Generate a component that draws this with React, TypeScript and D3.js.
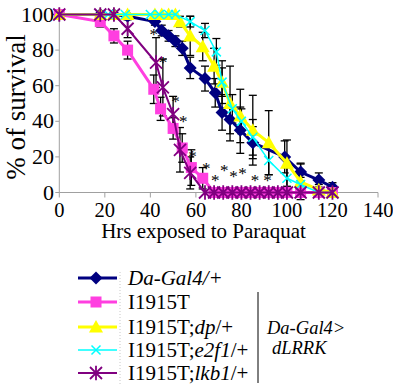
import React from "react";
import * as d3 from "d3";

const xTicks = [0, 20, 40, 60, 80, 100, 120, 140];
const yTicks = [0, 20, 40, 60, 80, 100];

const blueT = [0, 18, 24, 30, 42, 45, 48, 51, 54, 57.5, 64, 68.5, 71.5, 75, 79.5, 85, 99, 106, 114, 120];
const blueV = [100, 100, 100, 99, 96, 91, 88, 85, 81, 70, 64, 56, 45, 41, 35, 28, 20, 11.5, 7, 3];
const blueE = [0, 0, 0, 0, 2, 3, 3, 3, 4, 6, 7, 8, 10, 8, 13, 9, 9, 5, 4, 2.5];

const pinkT = [0, 18, 24, 30, 41.5, 44.5, 50, 54, 58, 63, 68, 72, 76, 80, 84, 88, 92, 96, 100, 106, 114, 120];
const pinkV = [100, 96, 88, 80, 58, 47, 36, 25, 14, 8, 0, 0, 0, 0, 0, 0, 0, 0, 0, 0, 0, 0];
const pinkE = [0, 3, 4, 5, 8, 6.5, 6, 8, 10, 6, 0, 0, 0, 0, 0, 0, 0, 0, 0, 0, 0, 0];

const yellowT = [0, 18, 24, 30, 42, 45, 48, 51, 53, 57.5, 63, 68, 71.5, 75, 79.5, 85, 92, 100, 106, 114, 120];
const yellowV = [100, 100, 100, 100, 100, 100, 100, 100, 96, 88, 82, 71, 62, 50, 43, 35, 28, 16.5, 6, 1.5, 0];
const yellowE = [0, 0, 0, 0, 0, 0, 0, 0, 3, 11, 8, 10, 12, 21, 15, 19.6, 18, 13, 10, 3, 0];

const cyanT = [0, 18, 21.5, 29, 40, 44, 48, 51, 57.5, 64, 69, 71.5, 76, 80, 85, 92, 100, 106, 114, 120];
const cyanV = [100, 100, 100, 100, 100, 100, 100, 100, 96, 91, 79, 62, 47, 40, 31, 18, 8, 4.5, 0, 0];
const cyanE = [0, 0, 0, 0, 0, 0, 0, 0, 3, 4, 7.5, 8, 8, 7, 10, 8, 6, 4, 0, 0];

const purpleT = [0, 18, 24, 30, 42.5, 45.5, 50, 53, 57.5, 64, 68, 72, 76, 80, 84, 88, 92, 96, 100, 106, 114, 120];
const purpleV = [100, 100, 100, 92, 73, 59, 44, 24, 11, 0, 0, 0, 0, 0, 0, 0, 0, 0, 0, 0, 0, 0];
const purpleE = [0, 0, 0, 5, 14, 16, 10, 12.5, 9, 0, 0, 0, 0, 0, 0, 0, 0, 0, 0, 0, 0, 0];

const starT = [41.5, 45.5, 51, 54.5, 58.5, 64.5, 68.5, 72.5, 76.5, 80.5, 86, 91.5];
const starV = [91, 75, 53, 42, 22, 15.5, 8.7, 14.3, 11, 12.5, 8.7, 8.7];

type Shape = "diamond" | "square" | "triangle" | "x" | "asterisk";

const seriesList = [
  { label: ["Da-Gal4/+", ""], italicAll: true, t: blueT, v: blueV, e: blueE, color: "#000080", width: 3, shape: "diamond" as Shape },
  { label: ["I1915T", ""], italicAll: false, t: pinkT, v: pinkV, e: pinkE, color: "#ff3fe0", width: 3, shape: "square" as Shape },
  { label: ["I1915T;", "dp"], italicAll: false, t: yellowT, v: yellowV, e: yellowE, color: "#ffff00", width: 3, shape: "triangle" as Shape },
  { label: ["I1915T;", "e2f1"], italicAll: false, t: cyanT, v: cyanV, e: cyanE, color: "#00ffff", width: 1.5, shape: "x" as Shape },
  { label: ["I1915T;", "lkb1"], italicAll: false, t: purpleT, v: purpleV, e: purpleE, color: "#800080", width: 2, shape: "asterisk" as Shape },
];

const FONT = "Liberation Serif";

function Marker({ shape, x, y, color }: { shape: Shape; x: number; y: number; color: string }) {
  if (shape === "diamond") {
    const r = 6.5;
    return <path d={`M${x},${y - r}L${x + r},${y}L${x},${y + r}L${x - r},${y}Z`} fill={color} />;
  }
  if (shape === "square") {
    const r = 5.5;
    return <rect x={x - r} y={y - r} width={2 * r} height={2 * r} fill={color} />;
  }
  if (shape === "triangle") {
    const r = 7;
    return <path d={`M${x},${y - r}L${x + r},${y + r * 0.8}L${x - r},${y + r * 0.8}Z`} fill={color} />;
  }
  if (shape === "x") {
    const r = 4.5;
    return (
      <path d={`M${x - r},${y - r}L${x + r},${y + r}M${x - r},${y + r}L${x + r},${y - r}`} stroke={color} strokeWidth={1.5} />
    );
  }
  const r = 6;
  return (
    <path
      d={`M${x - r},${y - r}L${x + r},${y + r}M${x - r},${y + r}L${x + r},${y - r}M${x},${y - r * 1.2}L${x},${y + r * 1.2}`}
      stroke={color}
      strokeWidth={1.8}
    />
  );
}

export default function App() {
  const x = d3.scaleLinear().domain([0, 140]).range([59.3, 378]);
  const y = d3.scaleLinear().domain([0, 100]).range([192.5, 14.5]);
  const axisColor = "#a0a0a0";
  const legendY = [278, 302, 327, 350, 373];
  const tf = { fontFamily: FONT };

  return (
    <svg width={393} height={386} style={{ position: "absolute", left: 0, top: 0 }}>
      <rect width={393} height={386} fill="#fff" />
      <line x1={x(0)} x2={x(0)} y1={y(100)} y2={y(0)} stroke={axisColor} strokeWidth={1} />
      <line x1={x(0)} x2={x(140)} y1={y(0)} y2={y(0)} stroke={axisColor} strokeWidth={1} />
      {xTicks.map((t) => (
        <g key={"xt" + t}>
          <line x1={x(t)} x2={x(t)} y1={y(0)} y2={y(0) + 5} stroke={axisColor} />
          <text x={x(t)} y={217} fontSize={20.5} textAnchor="middle" fill="#000" style={tf}>
            {t}
          </text>
        </g>
      ))}
      {yTicks.map((v) => (
        <g key={"yt" + v}>
          <line x1={x(0) - 4} x2={x(0)} y1={y(v)} y2={y(v)} stroke={axisColor} />
          <text x={54} y={y(v) + 7} fontSize={22} textAnchor="end" fill="#000" style={tf}>
            {v}
          </text>
        </g>
      ))}
      <text x={203.5} y={238} fontSize={21} textAnchor="middle" style={tf}>
        Hrs exposed to Paraquat
      </text>
      <text transform={`translate(25,107) rotate(-90)`} fontSize={27} textAnchor="middle" style={tf}>
        % of survival
      </text>

      {seriesList.map((s, si) =>
        s.t.map((t, i) =>
          s.e[i] > 0 ? (
            <g key={`e${si}-${i}`} stroke="#000" strokeWidth={1.3}>
              <line x1={x(t)} x2={x(t)} y1={y(s.v[i] + s.e[i])} y2={y(s.v[i] - s.e[i])} />
              <line x1={x(t) - 4} x2={x(t) + 4} y1={y(s.v[i] + s.e[i])} y2={y(s.v[i] + s.e[i])} />
              <line x1={x(t) - 4} x2={x(t) + 4} y1={y(s.v[i] - s.e[i])} y2={y(s.v[i] - s.e[i])} />
            </g>
          ) : null
        )
      )}

      {seriesList.map((s, si) => {
        const line = d3
          .line<number>()
          .x((_, i) => x(s.t[i]))
          .y((v) => y(v));
        return (
          <g key={"s" + si}>
            <path d={line(s.v) || ""} fill="none" stroke={s.color} strokeWidth={s.width} />
            {s.t.map((t, i) => (
              <Marker key={i} shape={s.shape} x={x(t)} y={y(s.v[i])} color={s.color} />
            ))}
          </g>
        );
      })}

      {starT.map((t, i) => (
        <text key={"st" + i} x={x(t)} y={y(starV[i]) + 9} fontSize={17} textAnchor="middle" fill="#000" style={tf}>
          *
        </text>
      ))}

      <line x1={120} x2={120} y1={272} y2={384} stroke="#c8c8c8" strokeWidth={1} strokeDasharray="1,2" />
      {seriesList.map((s, i) => (
        <g key={"lg" + i}>
          <line x1={78} x2={117} y1={legendY[i]} y2={legendY[i]} stroke={s.color} strokeWidth={s.width} />
          <Marker shape={s.shape} x={96} y={legendY[i]} color={s.color} />
          <text x={128} y={legendY[i] + 7} fontSize={21} style={tf}>
            {s.italicAll ? (
              <tspan fontStyle="italic">{s.label[0]}</tspan>
            ) : (
              <>
                <tspan>{s.label[0]}</tspan>
                {s.label[1] ? <tspan fontStyle="italic">{s.label[1]}</tspan> : null}
                {s.label[1] ? <tspan>/+</tspan> : null}
              </>
            )}
          </text>
        </g>
      ))}
      <line x1={258} x2={258} y1={292} y2={383} stroke="#000" strokeWidth={1} />
      <text x={267} y={334} fontSize={18.5} fontStyle="italic" style={tf}>
        Da-Gal4&gt;
      </text>
      <text x={272} y={354} fontSize={18.5} fontStyle="italic" style={tf}>
        dLRRK
      </text>
    </svg>
  );
}
